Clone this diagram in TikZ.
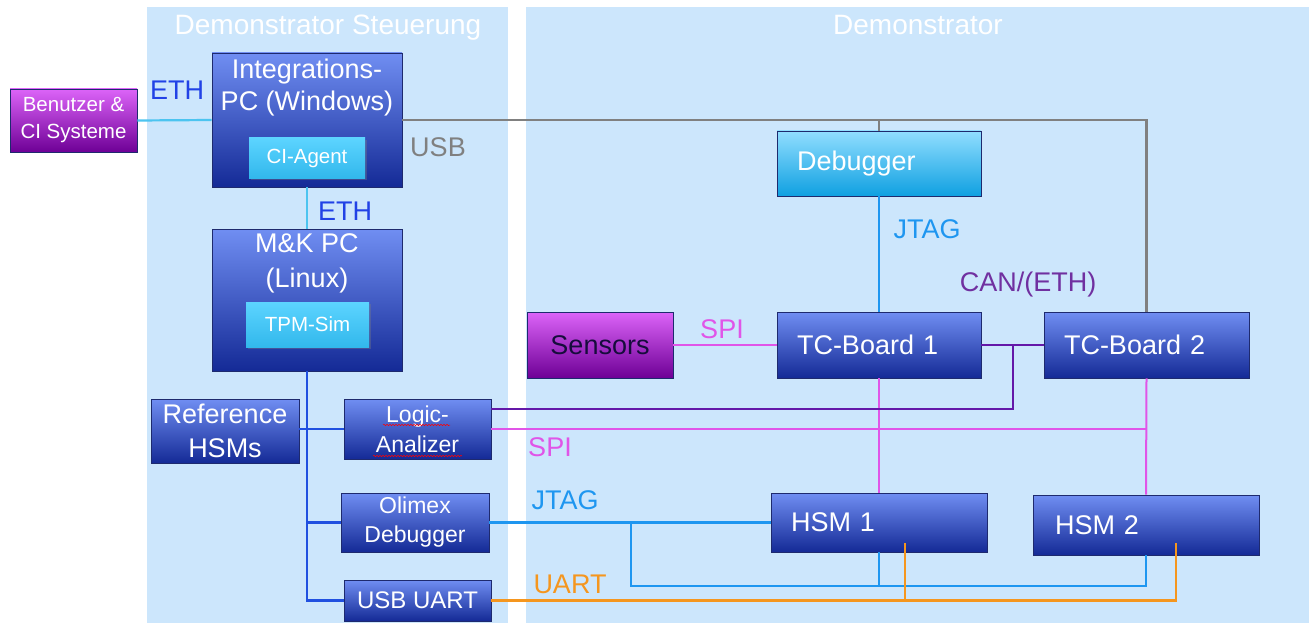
\documentclass[tikz,border=0pt]{standalone}
\usepackage{fontspec}
\setmainfont{Liberation Sans}
\usetikzlibrary{calc,positioning,shadows,decorations.pathmorphing}

\definecolor{panelblue}{RGB}{204,230,252}
\definecolor{boxborder}{RGB}{30,42,110}
\definecolor{boxtop}{RGB}{112,142,242}
\definecolor{boxmid}{RGB}{34,74,232}
\definecolor{boxbot}{RGB}{20,42,150}
\definecolor{magtop}{RGB}{220,100,248}
\definecolor{magmid}{RGB}{172,10,238}
\definecolor{magbot}{RGB}{110,0,150}
\definecolor{cyantop}{RGB}{92,212,255}
\definecolor{cyanbot}{RGB}{50,184,236}
\definecolor{dbgtop}{RGB}{145,222,255}
\definecolor{dbgbot}{RGB}{15,160,225}
\definecolor{ethblue}{RGB}{33,66,230}
\definecolor{ethline}{RGB}{76,196,240}
\definecolor{usbgray}{RGB}{128,128,128}
\definecolor{jtagblue}{RGB}{30,150,240}
\definecolor{canpurple}{RGB}{112,48,160}
\definecolor{canline}{RGB}{100,24,168}
\definecolor{spimag}{RGB}{224,85,232}
\definecolor{uartorange}{RGB}{245,150,30}
\definecolor{ctrlblue}{RGB}{32,80,224}
\definecolor{sensortext}{RGB}{22,12,60}

\tikzset{
  bluebox/.style={draw=boxborder, line width=0.9pt, top color=boxtop, middle color=boxmid,
    bottom color=boxbot, text=white, align=center, inner sep=0pt},
  magentabox/.style={draw=boxborder, line width=0.9pt, top color=magtop, middle color=magmid,
    bottom color=magbot, text=white, align=center, inner sep=0pt},
  cyanbox/.style={top color=cyantop, bottom color=cyanbot, text=white, inner sep=0pt,
    drop shadow={opacity=0.35, shadow xshift=2pt, shadow yshift=-2pt},
    font=\fontsize{20.5}{24}\selectfont},
  dbgbox/.style={draw=boxborder, line width=0.9pt, top color=dbgtop, bottom color=dbgbot,
    text=white, inner sep=0pt},
  leftbox/.style={align=left, inner xsep=20pt, inner ysep=0pt, text width=#1},
  bigfont/.style={font=\fontsize{27}{32}\selectfont},
  midfont/.style={font=\fontsize{24}{29}\selectfont},
  boxtext/.style={text=white, align=center, inner sep=0pt},
  paneltitle/.style={text=white, font=\fontsize{28}{32}\selectfont, inner sep=0pt, anchor=base},
  conlabel/.style={font=\fontsize{27}{32}\selectfont, inner sep=0pt},
  spellwave/.style={red, line width=0.5pt, decorate,
    decoration={snake, amplitude=0.7pt, segment length=3pt}}
}

\begin{document}
\begin{tikzpicture}[x=1pt,y=-1pt]
\useasboundingbox (0,0) rectangle (1309,623);

%% panels
\fill[panelblue] (147,7) rectangle (508,623);
\fill[panelblue] (526,7) rectangle (1309,623);
\node[paneltitle] (titlectrl) at (328,35) {Demonstrator Steuerung};
\node[paneltitle] (titledemo) at (918,35) {Demonstrator};

%% boxes
\node[magentabox, minimum width=127pt, minimum height=63pt, font=\fontsize{20.5}{27}\selectfont]
  (user) at (73.5,120.5) {Benutzer \&\\CI Systeme};

\node[bluebox, minimum width=190pt, minimum height=134pt] (intpc) at (307,120) {};
\node[boxtext, bigfont] (intpctext) at ($(intpc.north)+(0,35)$) {Integrations-\\PC (Windows)};
\node[cyanbox, minimum width=116pt, minimum height=40pt] (ciagent) at (307,158) {CI-Agent};

\node[bluebox, minimum width=190pt, minimum height=142pt] (mk) at (307,300) {};
\node[boxtext, font=\fontsize{27}{35}\selectfont] (mktext) at ($(mk.north)+(0,34.5)$) {M\&K PC\\(Linux)};
\node[cyanbox, minimum width=123pt, minimum height=45pt] (tpmsim) at (307.5,324.5) {TPM-Sim};

\node[bluebox, font=\fontsize{27}{34}\selectfont, minimum width=148pt, minimum height=64pt]
  (refhsm) at (225,431) {Reference\\HSMs};
\node[bluebox, font=\fontsize{23}{30}\selectfont, minimum width=147pt, minimum height=60pt]
  (logic) at (417.5,429) {Logic-\\Analizer};
\node[bluebox, font=\fontsize{23}{29}\selectfont, minimum width=148pt, minimum height=59pt]
  (olimex) at (415,522.5) {Olimex\\Debugger};
\node[bluebox, midfont, minimum width=147pt, minimum height=41pt] (usbuart) at (417.5,600.5) {USB UART};

\node[dbgbox, bigfont, leftbox=164pt, minimum height=65pt] (debugger) at (879,163.5) {Debugger};
\node[magentabox, bigfont, text=sensortext, minimum width=146pt, minimum height=66pt]
  (sensors) at (600,345) {Sensors};
\node[bluebox, bigfont, leftbox=164pt, minimum height=66pt] (tcb1) at (879,345) {TC-Board 1};
\node[bluebox, bigfont, leftbox=165pt, minimum height=66pt] (tcb2) at (1146.5,345) {TC-Board 2};
\node[bluebox, bigfont, leftbox=176pt, minimum height=59pt] (hsm1) at (879,522.5) {HSM 1};
\node[bluebox, bigfont, leftbox=182pt, minimum height=60pt, inner xsep=22pt] (hsm2) at (1146,525) {HSM 2};

%% spell check marks
\foreach \xa/\xb/\yy in {383/450/425, 373/462/456}
  \draw[spellwave] (\xa,\yy) -- (\xb,\yy);

%% connector labels
\node[conlabel, text=ethblue] (ethtop) at (177,90) {ETH};
\node[conlabel, text=usbgray] (usblbl) at (438,147) {USB};
\node[conlabel, text=ethblue] (ethmid) at (345,211) {ETH};
\node[conlabel, text=jtagblue] (jtagtop) at (927,229) {JTAG};
\node[conlabel, text=canpurple] (canlbl) at (1028,285) {CAN/(ETH)};
\node[conlabel, text=spimag] (spitop) at (722,329) {SPI};
\node[conlabel, text=spimag] (spilow) at (550,447) {SPI};
\node[conlabel, text=jtagblue] (jtaglow) at (565,500) {JTAG};
\node[conlabel, text=uartorange] (uartlbl) at (570,584) {UART};

%% connectors
\draw[ethline, line width=2.2pt] (user.east) -- (intpc.west);
\draw[ethline, line width=2.2pt] (intpc.south) -- (mk.north);
\draw[usbgray, line width=2.8pt] (intpc.east) -- (intpc.east -| tcb2) -- (tcb2.north);
\draw[usbgray, line width=2.4pt] (intpc.east -| debugger) -- (debugger.north);
\draw[jtagblue, line width=1.8pt] (debugger.south) -- (tcb1.north);

%% control tree of the M&K PC
\draw[ctrlblue, line width=2.4pt] (mk.south) -- (mk.south |- usbuart.west) -- (usbuart.west);
\draw[ctrlblue, line width=2.4pt] (refhsm.east |- logic.west) -- (logic.west);
\draw[ctrlblue, line width=2.4pt] (mk.south |- olimex.west) -- (olimex.west);

%% SPI
\draw[spimag, line width=2pt] (sensors.east) -- (tcb1.west);
\draw[spimag, line width=2.4pt] (logic.east) -- (logic.east -| tcb2);
\draw[spimag, line width=2pt] (tcb1.south) -- (hsm1.north);
\draw[spimag, line width=2pt] (tcb2.south) -- (hsm2.north);

%% CAN
\coordinate (cansplit) at (1013,409);
\draw[canline, line width=2.8pt] (tcb1.east) -- (tcb2.west);
\draw[canline, line width=2.6pt] (tcb1.east -| cansplit) -- (cansplit) -- (cansplit -| logic.east);

%% JTAG to the HSMs
\coordinate (jsplit) at (631,586);
\draw[jtagblue, line width=2.8pt] (olimex.east) -- (hsm1.west);
\draw[jtagblue, line width=2.8pt] (olimex.east -| jsplit) -- (jsplit) -| (hsm2.south);
\draw[jtagblue, line width=2pt] (hsm1.south) -- (hsm1.south |- jsplit);

%% UART
\coordinate (uarta) at (905,543);
\coordinate (uartb) at (1176,543);
\draw[uartorange, line width=2.3pt] (usbuart.east) -| (uartb);
\draw[uartorange, line width=2.3pt] (usbuart.east -| uarta) -- (uarta);
\end{tikzpicture}
\end{document}
